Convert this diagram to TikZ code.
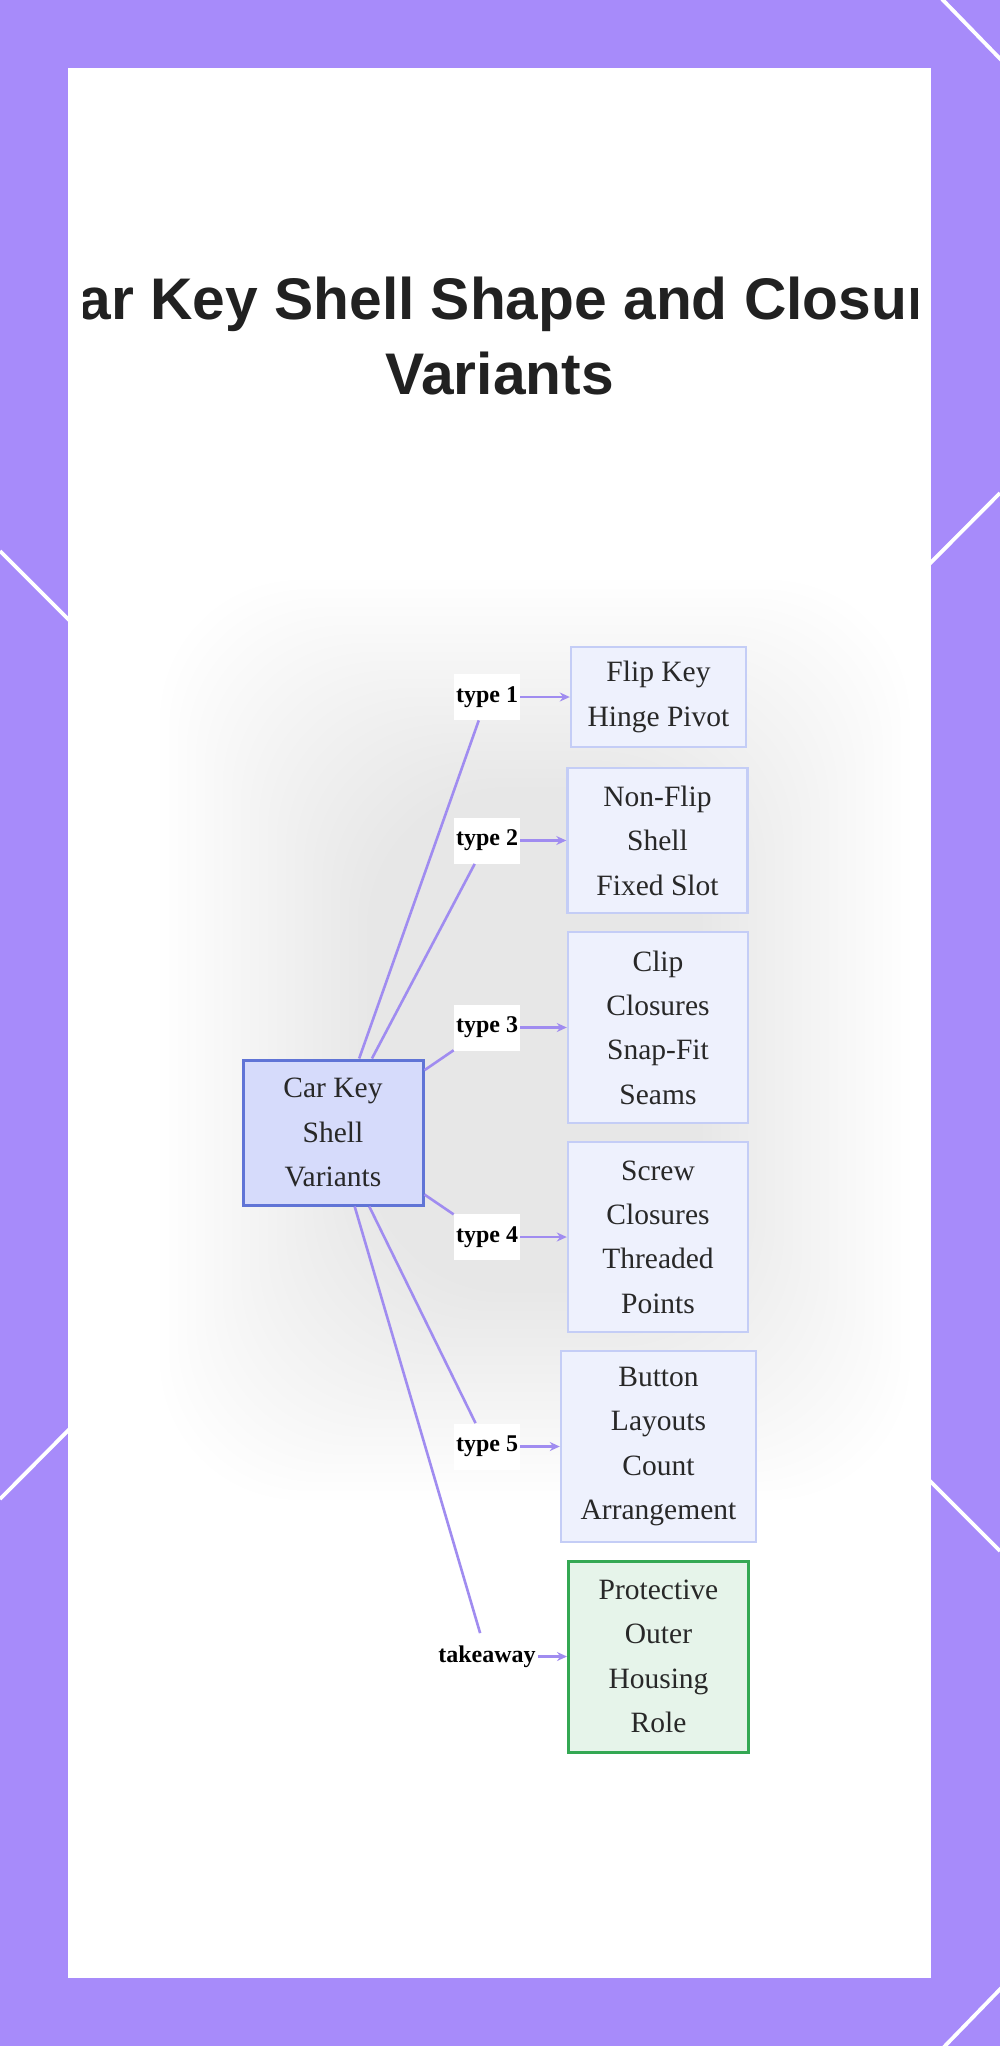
\documentclass[tikz,border=0pt]{standalone}
\usepackage{fontspec}
\setmainfont{Liberation Serif}
\newfontfamily\titlefont{Liberation Sans}
\usetikzlibrary{arrows.meta, positioning}

\definecolor{bgpurple}{RGB}{167,139,250}
\definecolor{rootfill}{RGB}{214,219,251}
\definecolor{rootdraw}{RGB}{96,116,214}
\definecolor{leaffill}{RGB}{238,241,253}
\definecolor{leafdraw}{RGB}{196,205,246}
\definecolor{greenfill}{RGB}{230,244,234}
\definecolor{greendraw}{RGB}{52,168,83}
\definecolor{edgecol}{RGB}{160,140,240}
\definecolor{inkgray}{RGB}{40,40,40}

\tikzset{
  root/.style={draw=rootdraw, fill=rootfill, line width=1.5pt, align=center,
    minimum width=90pt, minimum height=72.5pt, text=inkgray,
    font=\fontsize{14.75}{22.2}\selectfont},
  leaf/.style={draw=leafdraw, fill=leaffill, line width=1.2pt, align=center,
    minimum width=90pt, text=inkgray, font=\fontsize{14.75}{22.2}\selectfont},
  outcome/.style={leaf, draw=greendraw, fill=greenfill, line width=1.5pt},
  tag/.style={fill=white, inner sep=1pt, minimum height=23pt, text=black,
    font=\fontsize{12}{14}\selectfont\bfseries},
  link/.style={draw=edgecol, line width=1.3pt},
  arrowlink/.style={link, -{Stealth[length=5pt, width=4.5pt]}}
}

\begin{document}
\begin{tikzpicture}[x=0.5pt, y=-0.5pt]
\useasboundingbox (0,0) rectangle (1000,2046);

% Draw purple frame with white stripes
\fill[bgpurple] (0,0) rectangle (1000,2046);
\begin{scope}
\clip (0,0) rectangle (1000,2046);
\draw[white, line width=1.9pt] (0,551) -- (1000,1551);
\draw[white, line width=1.9pt] (0,1499) -- (1000,493);
\draw[white, line width=1.9pt] (940,-3) -- (1010,69);
\draw[white, line width=1.9pt] (942,2049) -- (1010,1979);
\end{scope}

% Draw white card
\fill[white] (68,68) rectangle (931,1978);

\begin{scope}
\clip (83,82) rectangle (917,1963);
% Soft grey shadow behind the graph
\foreach \i in {0,...,23}
  \fill[black, opacity=0.0045, rounded corners=70pt]
    ({160+9*\i},{580+9*\i}) rectangle ({910-9*\i},{1500-9*\i});
% Title
\node[font=\titlefont\bfseries\fontsize{29.35}{37.5}\selectfont, align=center,
  inner sep=0pt, text=black!87] (title) at (499.5,336)
  {Car Key Shell Shape and Closure\\Variants};
\end{scope}

% Root node
\node[root] (car) at (333,1132.5) {Car Key\\Shell\\Variants};

% Variant boxes
\node[leaf, minimum width=87.5pt, minimum height=50pt] (flip) at (658.5,697) {Flip Key\\Hinge Pivot};
\node[leaf, minimum height=72.5pt] (nonflip) at (657.5,840.5) {Non-Flip\\Shell\\Fixed Slot};
\node[leaf, minimum height=95.5pt] (clip) at (658,1027.5) {Clip\\Closures\\Snap-Fit\\Seams};
\node[leaf, minimum height=95pt] (screw) at (658,1237) {Screw\\Closures\\Threaded\\Points};
\node[leaf, minimum width=97.5pt, minimum height=95.5pt] (button) at (658.5,1446.5) {Button\\Layouts\\Count\\Arrangement};
\node[outcome, minimum height=95.5pt] (housing) at (658.5,1656.5) {Protective\\Outer\\Housing\\Role};

% Edge labels
\node[tag] (t1) at (487,697) {type 1};
\node[tag] (t2) at (487,840.5) {type 2};
\node[tag] (t3) at (487,1027.5) {type 3};
\node[tag] (t4) at (487,1237) {type 4};
\node[tag] (t5) at (487,1446.5) {type 5};
\node[tag] (tk) at (487,1656.5) {takeaway};

% Connect root to labels, labels to boxes
\draw[link] (car) -- (t1);
\draw[link] (car) -- (t2);
\draw[link] (car) -- (t3);
\draw[link] (car) -- (t4);
\draw[link] (car) -- (t5);
\draw[link] (car) -- (tk);
\draw[arrowlink] (t1) -- (flip);
\draw[arrowlink] (t2) -- (nonflip);
\draw[arrowlink] (t3) -- (clip);
\draw[arrowlink] (t4) -- (screw);
\draw[arrowlink] (t5) -- (button);
\draw[arrowlink] (tk) -- (housing);
\end{tikzpicture}
\end{document}
